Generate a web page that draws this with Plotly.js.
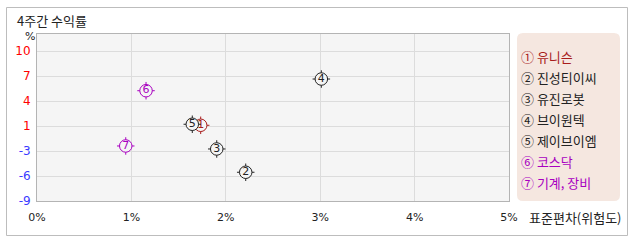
<!DOCTYPE html>
<html><head><meta charset="utf-8">
<script src="https://cdn.plot.ly/plotly-3.0.1.min.js"></script>
<style>html,body{margin:0;padding:0;background:#fff;}#c{width:638px;height:242px;}</style>
</head><body><div id="c"></div>
<script>
const names = ["유니슨","진성티이씨","유진로봇","브이원텍","제이브이엠","코스닥","기계, 장비"];
const marks = ["①","②","③","④","⑤","⑥","⑦"];
const digits = ["1","2","3","4","5","6","7"];
const risk = [1.734, 2.211, 1.904, 3.012, 1.645, 1.155, 0.940];
const ret = [0.59, -5.36, -2.41, 6.45, 0.72, 4.97, -2.03];
const colors = ["#a81c1c","#222222","#222222","#222222","#222222","#a800c0","#a800c0"];
const yTickVals = [-9, -9+19/6, -9+2*19/6, -9+3*19/6, -9+4*19/6, -9+5*19/6, -9+6*19/6];
const yTickText = ["-9","-6","-3","1","4","7","10"];
const xTickVals = [0,1,2,3,4,5];

const W=638,H=242,L=37,R=509,T=34,B=201;
const px = x => (x-L)/(R-L);
const py = y => (B-y)/(B-T);

const traces = [];
for (let i=0;i<names.length;i++){
  traces.push({x:[risk[i]],y:[ret[i]],type:'scatter',mode:'markers',hoverinfo:'skip',
    marker:{symbol:'cross-thin-open',size:12.5,color:colors[i],line:{color:colors[i],width:1}}});
  traces.push({x:[risk[i]],y:[ret[i]],type:'scatter',mode:'markers+text',hoverinfo:'skip',
    text:[digits[i]],textposition:'middle center',
    textfont:{family:'DejaVu Sans, sans-serif',size:11,color:colors[i]},
    marker:{symbol:'circle',size:12.5,color:'#f5f5f5',line:{color:colors[i],width:1}}});
}

const annotations = [
  {xref:'paper',yref:'paper',x:px(23),y:py(36),xanchor:'left',yanchor:'middle',text:'%',showarrow:false,
   font:{family:'DejaVu Sans, sans-serif',size:11,color:'#222'}},
  {xref:'paper',yref:'paper',x:px(527),y:py(217),xanchor:'left',yanchor:'middle',text:'표준편차(위험도)',showarrow:false,
   font:{family:'Noto Sans CJK KR, sans-serif',size:13,color:'#222'}}
];
const legendY = [56,77,98,119,140,161,182];
for (let i=0;i<names.length;i++){
  annotations.push({xref:'paper',yref:'paper',x:px(519),y:py(legendY[i]),xanchor:'left',yanchor:'middle',
    text:marks[i]+' '+names[i],showarrow:false,
    font:{family:'Noto Sans CJK KR, sans-serif',size:13,color:colors[i]}});
}

const yTickColored = yTickText.map(t => '<span style="color:'+(t.startsWith('-')?'#3b3bff':'#ff0000')+'">'+t+'</span>');

function rrect(x0,y0,x1,y1,r){
  const p=(x,y)=>px(x)+','+py(y);
  return 'M'+p(x0+r,y0)+' L'+p(x1-r,y0)+' Q'+p(x1,y0)+' '+p(x1,y0+r)+
    ' L'+p(x1,y1-r)+' Q'+p(x1,y1)+' '+p(x1-r,y1)+' L'+p(x0+r,y1)+' Q'+p(x0,y1)+' '+p(x0,y1-r)+
    ' L'+p(x0,y0+r)+' Q'+p(x0,y0)+' '+p(x0+r,y0)+' Z';
}

const layout = {
  width:W,height:H,margin:{l:L,r:W-R,t:T,b:H-B,pad:0},
  paper_bgcolor:'#ffffff',plot_bgcolor:'#f5f5f5',showlegend:false,
  title:{text:'4주간 수익률',xref:'container',yref:'container',x:17/W,y:1-21/H,xanchor:'left',yanchor:'middle',
    font:{family:'Noto Sans CJK KR, sans-serif',size:13,color:'#222'}},
  xaxis:{range:[0,5],tickvals:xTickVals,ticktext:xTickVals.map(v=>v+'%'),showgrid:true,gridcolor:'#dcdcdc',
    zeroline:false,showline:true,linecolor:'#b4b4b4',mirror:true,ticks:'outside',ticklen:6,tickcolor:'rgba(0,0,0,0)',
    tickfont:{family:'DejaVu Sans, sans-serif',size:11,color:'#222'},fixedrange:true},
  yaxis:{range:[-9,-9+167/25*19/6],tickvals:yTickVals,ticktext:yTickColored,showgrid:true,gridcolor:'#dcdcdc',
    zeroline:false,showline:true,linecolor:'#b4b4b4',mirror:true,ticks:'outside',ticklen:3,tickcolor:'rgba(0,0,0,0)',
    tickfont:{family:'DejaVu Sans, sans-serif',size:12,color:'#222'},fixedrange:true},
  shapes:[
    {type:'rect',xref:'paper',yref:'paper',x0:px(6.5),x1:px(627.5),y0:py(235.5),y1:py(7.5),line:{color:'#bdbdbd',width:1},fillcolor:'rgba(0,0,0,0)',layer:'below'},
    {type:'path',xref:'paper',yref:'paper',path:rrect(517,33,620,201,6),fillcolor:'#f5e7e0',line:{width:0},layer:'below'}
  ],
  annotations:annotations
};
Plotly.newPlot('c',traces,layout,{displayModeBar:false,staticPlot:true});
</script></body></html>
